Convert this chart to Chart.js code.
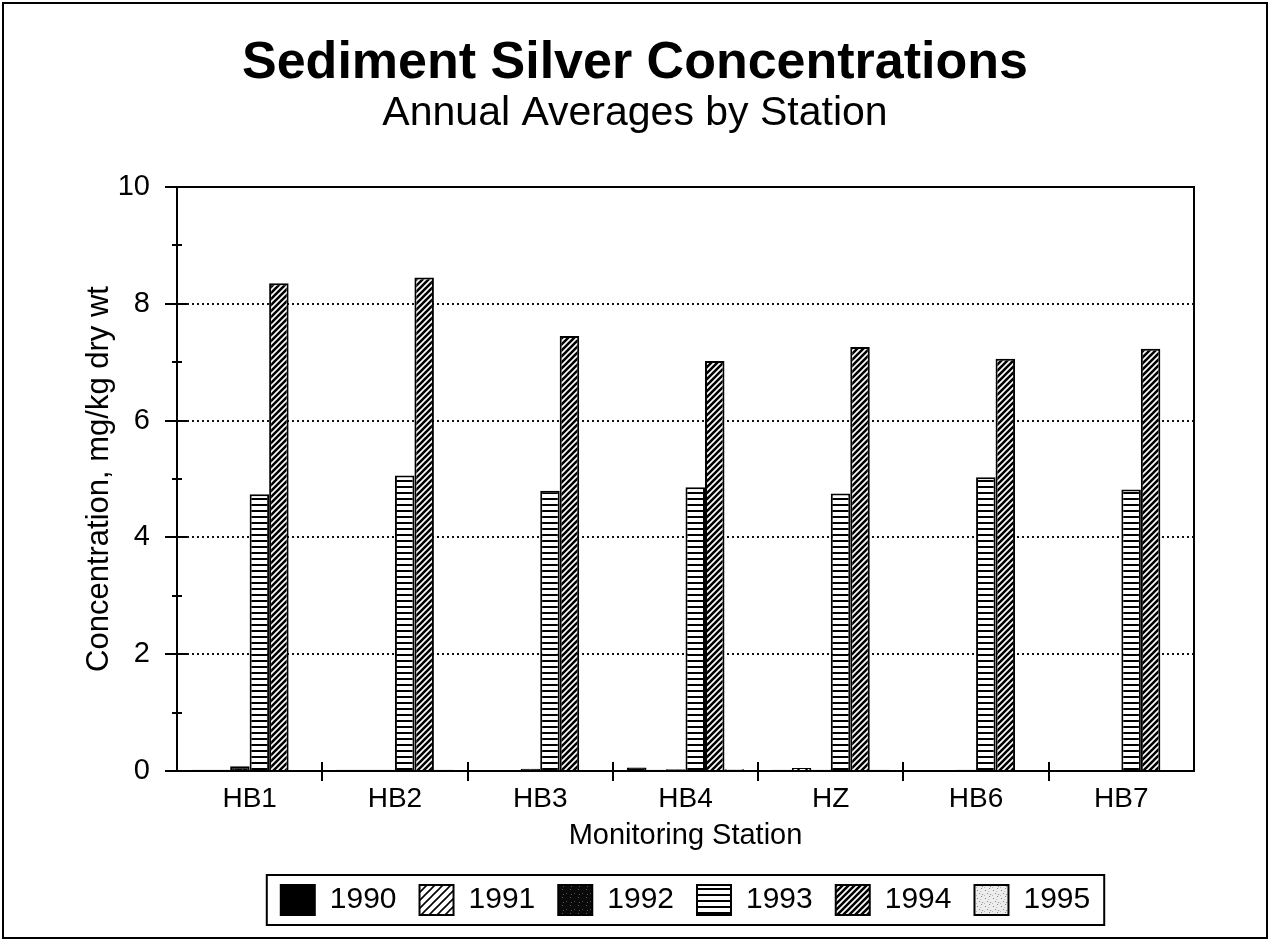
<!DOCTYPE html>
<html>
<head>
<meta charset="utf-8">
<title>Sediment Silver Concentrations</title>
<script src="https://cdn.jsdelivr.net/npm/chart.js@4"></script>
<style>
  body { margin: 0; background: #fff; }
  #chart { display: block; }
</style>
</head>
<body>
<canvas id="chart" width="1270" height="942"></canvas>
<script>
// station names along the x axis
const stations = ["HB1", "HB2", "HB3", "HB4", "HZ", "HB6", "HB7"];
const years = ["1990", "1991", "1992", "1993", "1994", "1995"];

// annual average silver, mg/kg dry wt
const ag1990 = [0.02, 0.02, 0.01, 0.06, 0.02, 0.01, 0.01];
const ag1991 = [0.02, 0.02, 0.01, 0.02, 0.05, 0.01, 0.01];
const ag1992 = [0.08, 0.02, 0.04, 0.03, 0.02, 0.02, 0.01];
const ag1993 = [4.74, 5.06, 4.8, 4.86, 4.75, 5.03, 4.82];
const ag1994 = [8.35, 8.45, 7.45, 7.02, 7.26, 7.06, 7.23];
const ag1995 = [0.01, 0.02, 0.01, 0.03, 0.02, 0.01, 0.01];

const yTicks = [0, 2, 4, 6, 8, 10];

const FONT = "'Liberation Sans', Arial, Helvetica, sans-serif";
Chart.defaults.font.family = FONT;
Chart.defaults.color = "#000";

// fill patterns like the old b/w chart
function makePattern(kind) {
  const c = document.createElement("canvas");
  const g = c.getContext("2d");
  if (kind === "hatch" || kind === "hatchLight") {
    const s = kind === "hatch" ? 6 : 8;
    c.width = s;
    c.height = s;
    g.fillStyle = "#fff";
    g.fillRect(0, 0, s, s);
    g.strokeStyle = "#000";
    g.lineWidth = kind === "hatch" ? 2.6 : 1.6;
    g.beginPath();
    g.moveTo(0, s); g.lineTo(s, 0);
    g.moveTo(-s / 2, s / 2); g.lineTo(s / 2, -s / 2);
    g.moveTo(s / 2, s + s / 2); g.lineTo(s + s / 2, s / 2);
    g.stroke();
  } else if (kind === "stripes") {
    c.width = 6;
    c.height = 6;
    g.fillStyle = "#fff";
    g.fillRect(0, 0, 6, 6);
    g.fillStyle = "#000";
    g.fillRect(0, 0, 6, 2);
  } else if (kind === "darkSpeckle") {
    c.width = 8;
    c.height = 8;
    g.fillStyle = "#0a0a0a";
    g.fillRect(0, 0, 8, 8);
    g.fillStyle = "#555";
    g.fillRect(2, 1, 1, 1);
    g.fillRect(6, 5, 1, 1);
    g.fillRect(3, 6, 1, 1);
  } else {
    c.width = 8;
    c.height = 8;
    g.fillStyle = "#ececec";
    g.fillRect(0, 0, 8, 8);
    g.fillStyle = "#888";
    g.fillRect(1, 2, 1, 1);
    g.fillRect(5, 0, 1, 1);
    g.fillRect(6, 6, 1, 1);
    g.fillRect(3, 5, 1, 1);
    g.fillStyle = "#bbb";
    g.fillRect(0, 7, 1, 1);
    g.fillRect(4, 3, 1, 1);
  }
  return g.createPattern(c, "repeat");
}

const fills = [
  "#000",
  makePattern("hatchLight"),
  makePattern("darkSpeckle"),
  makePattern("stripes"),
  makePattern("hatch"),
  makePattern("light"),
];
const series = [ag1990, ag1991, ag1992, ag1993, ag1994, ag1995];

const datasets = years.map((yr, i) => ({
  label: yr,
  data: series[i],
  backgroundColor: fills[i],
  borderColor: "#000",
  borderWidth: 2,
  borderSkipped: "start",
}));

// frame, tick marks, page border, legend box
const decorations = {
  id: "decorations",
  beforeDraw(chart) {
    const ctx = chart.ctx;
    ctx.save();
    ctx.fillStyle = "#fff";
    ctx.fillRect(0, 0, chart.width, chart.height);
    ctx.restore();
  },
  afterDatasetsDraw(chart) {
    const { ctx, chartArea: a } = chart;
    const x = chart.scales.x;
    const y = chart.scales.y;
    ctx.save();
    ctx.strokeStyle = "#000";
    ctx.lineWidth = 2;
    ctx.strokeRect(a.left, a.top, a.right - a.left, a.bottom - a.top);

    ctx.beginPath();
    for (let v = 0; v <= 10; v++) {
      const py = Math.round(y.getPixelForValue(v));
      const major = v % 2 === 0;
      ctx.moveTo(a.left - (major ? 12 : 5), py);
      ctx.lineTo(a.left + (major ? 10 : 5), py);
    }
    for (let i = 0; i < stations.length - 1; i++) {
      const px = Math.round((x.getPixelForValue(i) + x.getPixelForValue(i + 1)) / 2);
      ctx.moveTo(px, a.bottom - 9);
      ctx.lineTo(px, a.bottom + 10);
    }
    ctx.stroke();
    ctx.restore();
  },
  afterDraw(chart) {
    const ctx = chart.ctx;
    ctx.save();
    ctx.strokeStyle = "#000";
    ctx.lineWidth = 2;
    ctx.strokeRect(3, 3, chart.width - 6, chart.height - 7);

    const boxes = chart.legend.legendHitBoxes;
    if (boxes && boxes.length) {
      const l = Math.min(...boxes.map((b) => b.left));
      const r = Math.max(...boxes.map((b) => b.left + b.width));
      const t = Math.min(...boxes.map((b) => b.top));
      const h = boxes[0].height;
      ctx.strokeRect(l - 14, t - 10, r - l + 28, h + 20);
    }
    ctx.restore();
  },
};

new Chart(document.getElementById("chart"), {
  type: "bar",
  data: { labels: stations, datasets: datasets },
  options: {
    responsive: false,
    animation: false,
    devicePixelRatio: 1,
    layout: { padding: { left: 0, right: 0, top: 0, bottom: 17 } },
    datasets: {
      bar: { categoryPercentage: 0.805, barPercentage: 1 },
    },
    plugins: {
      title: {
        display: true,
        text: "Sediment Silver Concentrations",
        font: { size: 52, weight: "bold", lineHeight: 1 },
        padding: { top: 38, bottom: 3 },
        color: "#000",
      },
      subtitle: {
        display: true,
        text: "Annual Averages by Station",
        font: { size: 41, lineHeight: 1 },
        padding: { top: 0, bottom: 53 },
        color: "#000",
      },
      legend: {
        position: "bottom",
        fullSize: false,
        labels: {
          font: { size: 30 },
          boxWidth: 34,
          boxHeight: 30,
          padding: 23,
          color: "#000",
        },
      },
      tooltip: { enabled: false },
    },
    scales: {
      x: {
        grid: { display: false, drawTicks: false },
        border: { display: false },
        ticks: { font: { size: 28 }, padding: 11, color: "#000" },
        title: {
          display: true,
          text: "Monitoring Station",
          font: { size: 29 },
          padding: { top: 0, bottom: 9 },
          color: "#000",
        },
        afterFit: (s) => { s.height = 91; },
      },
      y: {
        min: 0,
        max: 10,
        afterBuildTicks: (s) => { s.ticks = yTicks.map((v) => ({ value: v })); },
        grid: {
          drawTicks: false,
          lineWidth: 2,
          color: (c) => (c.tick && c.tick.value > 0 && c.tick.value < 10 ? "#111" : "rgba(0,0,0,0)"),
        },
        border: { display: false, dash: [2, 3] },
        ticks: { font: { size: 29 }, padding: 27, color: "#000" },
        title: {
          display: true,
          text: "Concentration, mg/kg dry wt",
          font: { size: 31 },
          padding: { top: 81, bottom: 0 },
          color: "#000",
        },
        afterFit: (s) => { s.width = 177; },
      },
      // empty strip on the right so the plot stops short of the page edge
      yRight: {
        position: "right",
        display: true,
        grid: { display: false, drawTicks: false },
        border: { display: false },
        ticks: { display: false },
        afterFit: (s) => { s.width = 76; },
      },
    },
  },
  plugins: [decorations],
});
</script>
</body>
</html>
